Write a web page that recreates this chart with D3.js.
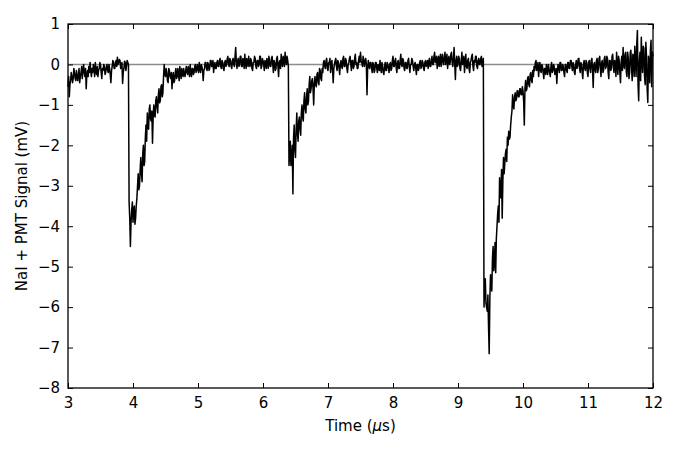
<!DOCTYPE html>
<html>
<head>
<meta charset="utf-8">
<script src="https://cdn.jsdelivr.net/npm/d3@7"></script>
<style>
  html, body { margin: 0; padding: 0; background: #fff; }
  svg { display: block; font-family: "DejaVu Sans", sans-serif; }
</style>
</head>
<body>
<svg id="chart" width="680" height="453"></svg>
<script>
// Sampling of the trace (time in microseconds)
const tStart = 3.0;
const tStep = 0.01;

// Signal values in mV, segment by segment
const baselineA = [
  -0.55,-0.3, -0.8,-0.5, -0.4,-0.2, -0.3,-0.45, -0.35,-0.1, -0.2,-0.35, -0.4,-0.15, -0.3,-0.4, -0.25,-0.1, -0.45,-0.3,
  -0.2,-0.05, -0.35,-0.15, 0.0,-0.2, -0.3,-0.1, -0.6,-0.25, -0.15,-0.3, -0.05,-0.2, 0.05,-0.15, -0.3,-0.1, -0.2,0.0,
  -0.1,-0.3, 0.05,-0.15, -0.25,-0.05, -0.3,-0.15, -0.1,0.05, 0.0,-0.2, -0.35,-0.1, -0.15,0.0, -0.05,-0.25, -0.2,-0.05,
  0.0,-0.15, -0.2,0.0, -0.1,-0.25, -0.45,-0.15, -0.05,0.1, 0.05,-0.1, -0.1,0.05, 0.1,-0.05, 0.18,0.0, 0.05,0.12,
  0.1,-0.1, -0.05,0.05, -0.47,-0.2, -0.1,0.08, 0.05,-0.15, -0.05,0.1, 0.05,0.0
];
const pulse1 = [
  -3.4,-3.8, -4.5,-3.9, -3.6,-3.4, -3.9,-3.6, -3.5,-3.95, -3.8,-3.5, -3.3,-3.0, -2.7,-3.1, -3.0,-2.6, -2.3,-2.7,
  -2.9,-2.2, -2.0,-2.5, -2.4,-1.8, -1.5,-1.9, -1.2,-1.5, -1.6,-1.1, -1.0,-1.35, -1.4,-1.15, -1.95,-1.3, -1.0,-1.25,
  -1.3,-0.9, -0.8,-1.05, -1.2,-0.75, -0.6,-0.95, -0.9,-0.55, -0.5,-0.8, -0.7,-0.3, 0.0,-0.25, -0.3,-0.1
];
const baselineB = [
  -0.2,-0.4, -0.45,-0.1, -0.15,-0.3, -0.35,-0.2, -0.6,-0.3, -0.2,-0.45, -0.4,-0.2, -0.1,-0.35, -0.3,-0.1, -0.25,-0.4,
  -0.05,-0.2, -0.35,-0.1, -0.2,-0.3, -0.1,-0.25, -0.3,-0.15, -0.05,-0.2, -0.25,-0.05, -0.15,-0.3, 0.0,-0.2, -0.3,-0.1,
  -0.1,-0.25, -0.2,-0.05, 0.0,-0.2, -0.15,0.0, -0.1,-0.2, 0.05,-0.1, -0.2,0.0, -0.05,-0.15, -0.4,-0.15, -0.1,0.05,
  0.05,-0.1, -0.15,0.05, 0.0,-0.15, -0.1,0.1, 0.1,-0.05, -0.05,0.1, -0.2,-0.05, 0.05,-0.1, -0.1,0.05, 0.1,-0.05,
  -0.05,0.1, 0.15,-0.05, -0.1,0.1, 0.05,-0.1, -0.15,0.05, 0.1,-0.05, 0.0,0.15, 0.2,0.0, -0.05,0.15, 0.1,-0.05,
  -0.1,0.1, 0.15,0.0, -0.05,0.2, 0.42,0.05, -0.1,0.1, 0.15,-0.05, 0.0,0.2, 0.2,-0.05, -0.05,0.15, 0.1,-0.1,
  0.25,0.05, -0.1,0.15, 0.05,-0.05, 0.2,0.0, -0.05,0.15, 0.1,-0.1, -0.15,0.05, 0.05,0.2, 0.15,-0.05, -0.1,0.1,
  0.1,-0.05, 0.0,0.2, 0.2,-0.1, -0.05,0.15, 0.1,0.0, -0.15,0.1, 0.05,-0.1, 0.15,0.05, -0.1,0.2, 0.1,-0.05,
  -0.05,0.15, 0.2,0.0, -0.2,0.1, 0.05,-0.15, -0.1,0.15, 0.2,-0.05, -0.3,0.05, 0.1,-0.1, 0.25,0.05, -0.05,0.2,
  0.15,-0.05, 0.3,0.1, 0.0,0.2, 0.1,-0.05
];
const pulse2 = [
  -2.5,-2.2, -1.9,-2.5, -2.4,-2.0, -3.2,-1.8, -1.5,-2.1, -2.3,-1.6, -1.2,-1.7, -1.9,-1.4, -1.3,-1.6, -1.75,-1.2,
  -1.0,-1.3, -1.4,-0.9, -0.7,-1.1, -1.2,-0.8, -0.6,-1.0, -0.9,-0.5, -0.3,-0.7, -0.6,-0.4, -0.35,-0.6, -1.0,-0.45,
  -0.3,-0.5, -0.55,-0.25, -0.2,-0.45, -0.5,-0.1, -0.15,-0.35, -0.4,-0.1, -0.2,0.05
];
const baselineC = [
  0.1,-0.05, -0.1,0.1, 0.15,-0.1, -0.15,0.05, 0.05,0.15, -0.2,0.0, 0.1,-0.15, -0.45,-0.1, 0.0,0.1, 0.15,-0.05,
  -0.15,0.1, 0.05,-0.1, -0.25,0.0, 0.1,-0.05, -0.1,0.15, 0.2,-0.05, -0.05,0.15, 0.1,-0.1, -0.2,0.0, 0.05,0.15,
  0.2,0.0, -0.15,0.1, 0.1,-0.1, -0.05,0.15, 0.25,0.0, 0.05,-0.1, -0.1,0.1, 0.2,0.05, 0.3,0.1, 0.05,-0.05,
  0.2,0.1, -0.05,0.1, 0.15,0.0, -0.75,-0.1, 0.1,-0.05, -0.1,0.05, 0.05,-0.1, -0.2,0.05, 0.0,-0.2, -0.15,0.05,
  0.05,-0.1, -0.2,0.0, -0.05,-0.15, 0.1,-0.1, -0.2,0.05, -0.05,-0.2, -0.25,-0.05, 0.05,-0.15, -0.15,0.05, 0.0,-0.1,
  -0.2,0.0, 0.05,-0.15, -0.1,0.1, 0.2,-0.05, -0.05,0.1, 0.15,-0.1, -0.2,0.05, 0.1,-0.1, -0.1,0.1, 0.25,0.0,
  -0.05,0.15, 0.1,-0.1, -0.15,0.05, 0.05,-0.1, -0.1,0.1, 0.15,-0.05, -0.2,0.0, 0.0,0.15, 0.1,-0.05, -0.15,0.0,
  0.05,-0.1, -0.25,0.0, 0.0,-0.15, -0.1,0.05, 0.1,-0.1, -0.05,0.1, 0.05,-0.1, -0.15,0.05, 0.1,-0.05, 0.0,0.1,
  -0.1,0.05, 0.15,-0.05, -0.05,0.1, 0.2,0.0, 0.0,0.2, 0.3,0.05, 0.05,0.2, -0.1,0.1, 0.2,-0.05, 0.1,0.25,
  -0.05,0.1, 0.25,0.05, 0.0,0.2, 0.3,0.0, 0.1,0.25, -0.1,0.1, 0.2,0.0, 0.05,0.25, 0.3,0.05, -0.05,0.15,
  0.42,0.0, -0.37,0.1, 0.2,-0.05, 0.0,0.2, 0.15,-0.1, -0.15,0.1, 0.3,0.0, 0.05,0.2, -0.2,0.05, 0.25,-0.05,
  -0.1,0.1, 0.15,-0.1, -0.2,0.05, 0.1,0.2, 0.25,-0.05, -0.15,0.1, 0.05,0.2, 0.2,-0.05, -0.1,0.1, 0.15,0.0,
  0.0,0.15, 0.2,-0.05, 0.05,0.15
];
const pulse3 = [
  -6.0,-5.5, -5.3,-5.9, -6.0,-6.1, -5.7,-6.5, -7.15,-5.8, -5.2,-5.5, -5.6,-4.8, -4.5,-5.1, -4.9,-4.4, -5.15,-4.3,
  -4.0,-3.7, -3.5,-3.9, -2.8,-3.2, -3.3,-2.6, -3.8,-2.9, -2.3,-2.7, -2.45,-2.2, -2.1,-2.4, -1.8,-2.0, -1.65,-1.85,
  -1.8,-1.5, -1.3,-1.15, -0.75,-1.0, -1.1,-0.8, -0.7,-0.9, -0.85,-0.65, -0.65,-0.8, -0.8,-0.6, -0.6,-0.75, -0.75,-0.55,
  -0.65,-0.9, -1.5,-0.6, -0.4,-0.65, -0.6,-0.35, -0.3,-0.5, -0.55,-0.25, -0.2,-0.4, -0.45,-0.15, -0.3,-0.05, -0.15,0.05,
  0.1,-0.15
];
const tailD = [
  -0.1,0.05, -0.3,-0.1, 0.05,-0.15, -0.2,0.0, -0.05,-0.2, -0.35,-0.1, -0.1,-0.25, 0.0,-0.15, -0.25,0.0, -0.1,-0.2,
  -0.3,-0.05, 0.05,-0.2, -0.15,0.0, -0.05,-0.25, -0.2,-0.1, -0.47,-0.15, 0.0,-0.1, -0.2,0.05, 0.05,-0.15, -0.15,0.0,
  -0.05,-0.2, -0.3,0.0, 0.0,-0.15, -0.2,0.05, 0.05,-0.1, -0.1,0.1, 0.1,-0.05, -0.15,0.05, 0.0,-0.2, -0.25,0.0,
  0.1,-0.1, -0.05,0.15, 0.15,-0.1, -0.2,0.05, 0.0,-0.2, -0.35,0.0, 0.1,-0.1, -0.15,0.1, 0.05,-0.2, -0.3,0.05,
  0.1,-0.1, -0.2,0.1, 0.15,-0.15, -0.57,0.0, 0.05,-0.15, -0.2,0.1, 0.15,-0.2, -0.1,0.15, 0.2,-0.1, -0.3,0.05,
  0.1,-0.2, -0.15,0.15, 0.2,-0.1, -0.05,0.2, 0.15,-0.2, -0.35,0.1, 0.1,-0.15, -0.1,0.2, 0.25,-0.05, -0.2,0.1,
  0.05,-0.3, 0.3,0.0, -0.25,0.2, 0.1,-0.2, -0.45,0.05, 0.2,-0.15, 0.42,0.0, -0.1,0.25, 0.3,-0.2, -0.3,0.3,
  0.15,-0.35, -0.2,0.3, 0.35,-0.1, -0.4,0.25, 0.2,-0.3, 0.45,0.1, -0.3,0.5, 0.84,-0.5, -0.9,0.1, 0.3,-0.4,
  0.67,0.1, -0.2,0.45, 0.4,-0.3, -0.5,0.55, 0.2,-0.6, -0.94,0.2, 0.1,-0.45, 0.35,0.6, -0.55,0.3, 0.2
];

const xTicks = [3, 4, 5, 6, 7, 8, 9, 10, 11, 12];
const yTicks = [1, 0, -1, -2, -3, -4, -5, -6, -7, -8];
const xDomain = [3, 12];
const yDomain = [-8, 1];

(function draw() {
  const signal = [].concat(baselineA, pulse1, baselineB, pulse2, baselineC, pulse3, tailD);
  const data = signal.map((v, i) => ({ t: tStart + i * tStep, v }));

  const margin = { left: 68, right: 27, top: 24, bottom: 65 };
  const W = 680, H = 453;
  const svg = d3.select("#chart");

  const x = d3.scaleLinear().domain(xDomain).range([margin.left, W - margin.right]);
  const y = d3.scaleLinear().domain(yDomain).range([H - margin.bottom, margin.top]);

  const fmt = d => (d < 0 ? "\u2212" + Math.abs(d) : String(d));

  // zero reference line
  svg.append("line")
    .attr("x1", x(xDomain[0])).attr("x2", x(xDomain[1]))
    .attr("y1", y(0)).attr("y2", y(0))
    .attr("stroke", "#8c8c8c").attr("stroke-width", 1.5);

  // signal trace
  svg.append("path")
    .datum(data)
    .attr("fill", "none")
    .attr("stroke", "#000")
    .attr("stroke-width", 1.5)
    .attr("stroke-linejoin", "round")
    .attr("d", d3.line().x(d => x(d.t)).y(d => y(d.v)));

  // axes with inward ticks
  const tickLen = 5;
  const gBottom = svg.append("g").attr("transform", `translate(0,${y(yDomain[0])})`)
    .call(d3.axisBottom(x).tickValues(xTicks).tickFormat(fmt).tickSizeInner(-tickLen).tickSizeOuter(0).tickPadding(9));
  const gTop = svg.append("g").attr("transform", `translate(0,${y(yDomain[1])})`)
    .call(d3.axisTop(x).tickValues(xTicks).tickFormat("").tickSizeInner(-tickLen).tickSizeOuter(0));
  const gLeft = svg.append("g").attr("transform", `translate(${x(xDomain[0])},0)`)
    .call(d3.axisLeft(y).tickValues(yTicks).tickFormat(fmt).tickSizeInner(-tickLen).tickSizeOuter(0).tickPadding(8));
  const gRight = svg.append("g").attr("transform", `translate(${x(xDomain[1])},0)`)
    .call(d3.axisRight(y).tickValues(yTicks).tickFormat("").tickSizeInner(-tickLen).tickSizeOuter(0));

  [gBottom, gTop, gLeft, gRight].forEach(g => {
    g.select(".domain").remove();
    g.selectAll(".tick line").attr("stroke", "#000").attr("stroke-width", 1);
    g.selectAll(".tick text").attr("fill", "#000").attr("font-size", 15)
      .attr("font-family", "DejaVu Sans, sans-serif");
  });

  // frame
  svg.append("rect")
    .attr("x", x(xDomain[0])).attr("y", y(yDomain[1]))
    .attr("width", x(xDomain[1]) - x(xDomain[0]))
    .attr("height", y(yDomain[0]) - y(yDomain[1]))
    .attr("fill", "none").attr("stroke", "#000").attr("stroke-width", 1.3);

  // axis labels
  const xl = svg.append("text")
    .attr("x", (x(xDomain[0]) + x(xDomain[1])) / 2)
    .attr("y", 431)
    .attr("text-anchor", "middle")
    .attr("font-size", 15)
    .attr("fill", "#000");
  xl.append("tspan").text("Time (");
  xl.append("tspan").attr("font-style", "italic").text("\u03bc");
  xl.append("tspan").text("s)");

  svg.append("text")
    .attr("transform", `translate(27,${(y(yDomain[0]) + y(yDomain[1])) / 2}) rotate(-90)`)
    .attr("text-anchor", "middle")
    .attr("font-size", 15)
    .attr("fill", "#000")
    .text("NaI + PMT Signal (mV)");
})();
</script>
</body>
</html>
